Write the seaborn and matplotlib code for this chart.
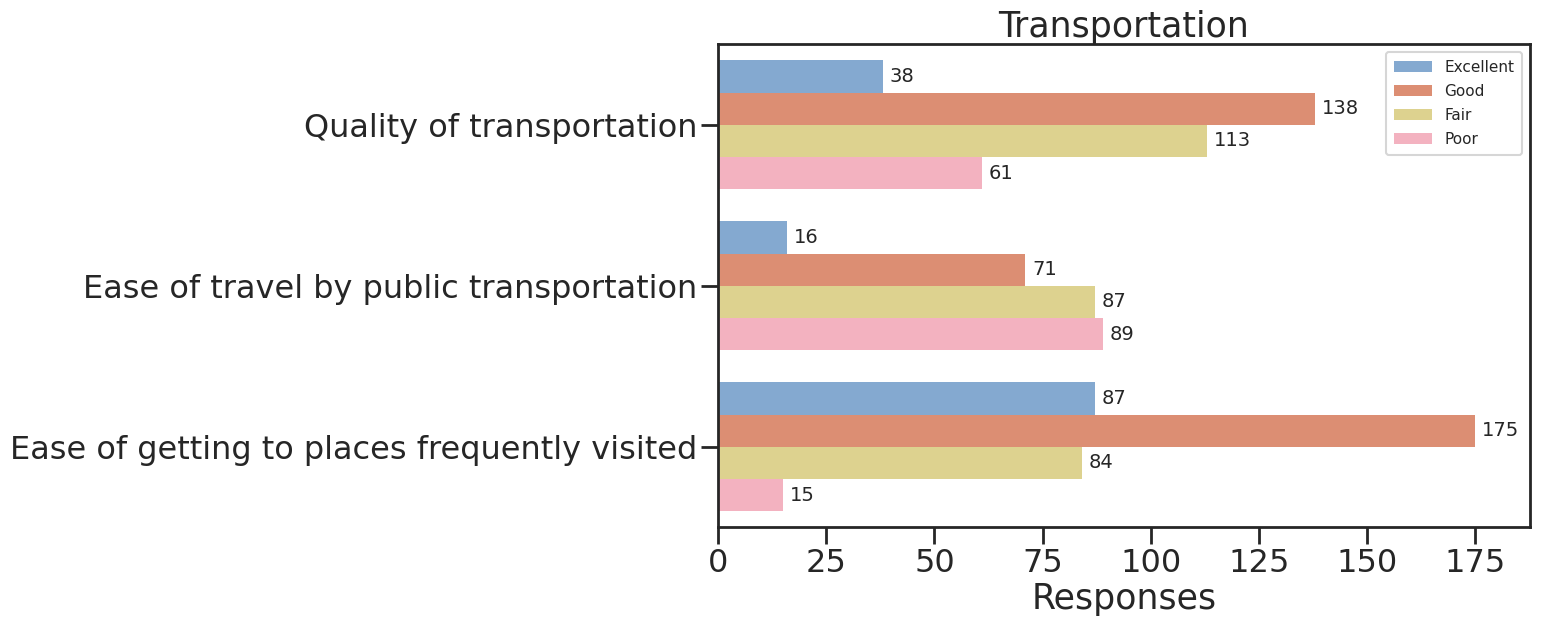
import pandas as pd
import matplotlib.pyplot as plt
import seaborn as sns

# Survey data
questions = [
    "Quality of transportation",
    "Ease of travel by public transportation",
    "Ease of getting to places frequently visited",
]
ratings = ["Excellent", "Good", "Fair", "Poor"]
excellent = [38, 16, 87]
good = [138, 71, 175]
fair = [113, 87, 84]
poor = [61, 89, 15]

colors = ["#84a9d0", "#dc8e73", "#ddd28f", "#f3b2c0"]

rows = []
for rating, vals in zip(ratings, [excellent, good, fair, poor]):
    for q, v in zip(questions, vals):
        rows.append({"question": q, "rating": rating, "responses": v})
df = pd.DataFrame(rows)

sns.set_theme(context="talk", style="ticks")
plt.rcParams["font.family"] = ["DejaVu Sans"]

fig = plt.figure(figsize=(15.46, 6.24), dpi=100)
ax = fig.add_axes([0.4645, 0.155, 0.525, 0.774])

sns.barplot(data=df, x="responses", y="question", hue="rating",
            hue_order=ratings, palette=colors, orient="h", ax=ax,
            saturation=1, width=0.8, linewidth=0)

for c in ax.containers:
    ax.bar_label(c, padding=5, fontsize=14)

ax.set_xlim(0, 187.6)
ax.set_xticks([0, 25, 50, 75, 100, 125, 150, 175])
ax.set_title("Transportation", fontsize=25, pad=3)
ax.set_xlabel("Responses", fontsize=25, labelpad=2)
ax.set_ylabel("")
ax.tick_params(axis="both", labelsize=23, length=12, width=2, pad=3)
for s in ax.spines.values():
    s.set_linewidth(2)

ax.legend(loc="upper right", fontsize=11, title=None, handlelength=2.5,
          borderpad=0.5, labelspacing=0.6)

plt.savefig("out.png", dpi=100)
plt.close()
